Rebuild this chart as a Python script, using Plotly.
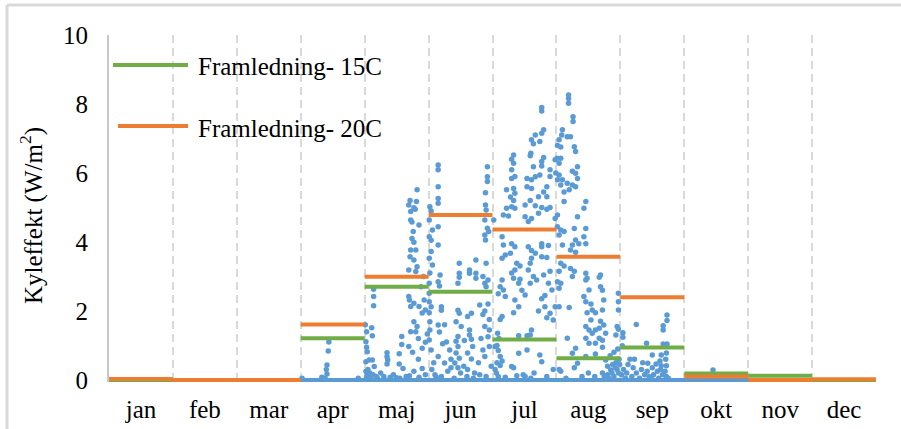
import plotly.graph_objects as go

months = ["jan", "feb", "mar", "apr", "maj", "jun", "jul", "aug", "sep", "okt", "nov", "dec"]

# monthly mean levels (W/m2)
fram15 = [0.0, 0.0, 0.0, 1.21, 2.70, 2.56, 1.17, 0.63, 0.94, 0.19, 0.12, 0.0]
fram20 = [0.03, 0.0, 0.0, 1.61, 2.99, 4.78, 4.36, 3.57, 2.40, 0.10, 0.0, 0.02]

# zero floor of the hourly series (whole year)
floor_x = [0, 12]
floor_y = [0, 0]

# hourly cooling demand points (position within month 0-1, value)
apr_pts = [(0.33, 0.08), (0.40, 0.30), (0.41, 0.43), (0.41, 0.17), (0.43, 0.84), (0.44, 1.10),
           (0.38, 0.05), (0.90, 0.05), (0.02, 0.05)]
maj_pts = [(0.14, 2.63), (0.14, 2.42), (0.14, 2.15), (0.11, 1.51), (0.12, 1.28), (0.03, 1.40),
           (0.02, 1.11), (0.03, 0.95), (0.04, 0.82), (0.12, 0.58), (0.02, 0.53), (0.07, 0.58),
           (0.15, 0.39), (0.05, 0.30), (0.08, 0.20), (0.02, 0.25), (0.10, 0.12), (0.03, 0.08),
           (0.06, 0.05), (0.13, 0.15), (0.18, 0.10), (0.20, 0.05), (0.01, 1.6), (0.04, 0.15),
           (0.35, 0.79), (0.35, 0.67), (0.36, 0.58), (0.35, 0.46), (0.54, 0.76), (0.54, 0.46),
           (0.58, 1.26), (0.58, 1.03), (0.69, 0.97), (0.60, 0.33), (0.90, 0.33), (0.77, 0.25),
           (0.30, 0.10), (0.40, 0.08), (0.45, 0.15), (0.50, 0.06), (0.65, 0.10), (0.25, 0.20),
           (0.70, 0.12), (0.55, 0.05), (0.85, 0.08), (0.95, 0.15),
           (0.82, 5.51), (0.69, 5.07), (0.77, 4.99), (0.72, 4.88), (0.81, 5.17), (0.79, 4.95),
           (0.72, 4.64), (0.74, 4.58), (0.85, 4.49), (0.74, 4.10), (0.77, 3.99), (0.72, 3.77),
           (0.80, 3.77), (0.71, 3.57), (0.77, 3.48), (0.82, 3.28), (0.69, 3.19), (0.80, 3.14),
           (0.69, 2.42), (0.70, 2.32), (0.77, 2.22), (0.72, 2.13), (0.85, 2.13), (0.93, 2.32),
           (0.95, 2.03), (0.90, 1.94), (0.77, 1.69), (0.82, 1.55), (0.72, 1.40), (0.80, 1.40),
           (0.90, 0.92), (0.95, 1.09), (0.98, 1.33), (0.84, 0.60), (0.75, 0.80), (0.88, 2.70),
           (0.92, 3.00), (0.76, 4.30), (0.71, 5.20), (0.84, 1.20)]
jun_pts = [(0.15, 6.23), (0.15, 6.09), (0.15, 5.60), (0.15, 5.26), (0.15, 5.12), (0.15, 4.44),
           (0.15, 3.91), (0.02, 5.02), (0.04, 4.90), (0.01, 4.64), (0.06, 4.35), (0.01, 4.15),
           (0.04, 4.05), (0.04, 3.72), (0.01, 3.53), (0.06, 3.33), (0.02, 3.10), (0.01, 2.80),
           (0.15, 2.85), (0.17, 2.72), (0.18, 3.04), (0.01, 2.51), (0.01, 2.27), (0.04, 2.12),
           (0.01, 1.95), (0.02, 1.69), (0.02, 1.45), (0.01, 1.16), (0.15, 1.59), (0.17, 1.39),
           (0.20, 2.12), (0.20, 2.02), (0.15, 0.68), (0.04, 0.87), (0.22, 1.05), (0.25, 0.49),
           (0.33, 0.87), (0.35, 0.35), (0.30, 0.25),
           (0.48, 3.38), (0.48, 3.09), (0.48, 2.98), (0.46, 2.80), (0.48, 1.93), (0.46, 2.02),
           (0.43, 1.69), (0.51, 1.55), (0.46, 1.26), (0.43, 1.12), (0.46, 0.97), (0.43, 0.78),
           (0.48, 0.63), (0.41, 0.49), (0.46, 0.35), (0.56, 1.14), (0.61, 1.84), (0.64, 1.45),
           (0.64, 1.30), (0.67, 1.18), (0.69, 0.97), (0.61, 0.78), (0.67, 0.61), (0.72, 0.20),
           (0.61, 0.30), (0.64, 3.19), (0.64, 3.09), (0.74, 3.48), (0.74, 3.09), (0.74, 2.95),
           (0.80, 2.17), (0.67, 1.93), (0.85, 3.00), (0.90, 3.38), (0.88, 2.80), (0.90, 2.70),
           (0.93, 2.90), (0.85, 1.90), (0.88, 1.55), (0.93, 2.20), (0.88, 2.00), (0.95, 1.75),
           (0.95, 1.45), (0.93, 1.25), (0.85, 0.87), (0.88, 0.68), (0.95, 0.97), (0.25, 1.60),
           (0.28, 1.10), (0.35, 0.60), (0.55, 0.40), (0.78, 0.50), (0.82, 1.20),
           (0.92, 6.18), (0.92, 5.89), (0.92, 5.75), (0.89, 5.43), (0.89, 5.07), (0.90, 4.93),
           (0.88, 4.64), (0.92, 4.40), (0.88, 4.20), (0.89, 4.06), (0.94, 4.30),
           (0.05, 0.30), (0.10, 0.15), (0.20, 0.10), (0.40, 0.05), (0.50, 0.20), (0.60, 0.10),
           (0.70, 0.05), (0.80, 0.15), (0.90, 0.10), (0.98, 0.40), (0.08, 0.50), (0.12, 0.08)]
jul_pts = [(0.77, 7.90), (0.77, 7.80), (0.80, 7.25), (0.77, 7.15), (0.74, 6.91), (0.67, 7.10),
           (0.61, 6.96), (0.64, 6.85), (0.60, 6.57), (0.59, 6.50), (0.64, 6.18), (0.77, 6.33),
           (0.80, 6.45), (0.77, 6.20), (0.67, 5.89), (0.61, 5.80), (0.54, 5.84), (0.74, 5.94),
           (0.90, 6.09), (0.98, 6.38), (0.99, 6.00), (0.90, 5.90), (0.85, 5.60), (0.85, 5.31),
           (0.80, 5.45), (0.72, 5.31), (0.61, 5.55), (0.54, 5.60), (0.59, 5.20), (0.51, 5.07),
           (0.67, 5.05), (0.72, 4.83), (0.77, 5.00), (0.85, 4.95), (0.90, 5.00), (0.51, 4.73),
           (0.56, 4.59), (0.61, 4.68), (0.98, 4.68),
           (0.33, 6.52), (0.30, 6.40), (0.33, 6.28), (0.30, 6.09), (0.30, 5.84), (0.35, 5.90),
           (0.22, 5.51), (0.33, 5.55), (0.35, 5.41), (0.28, 5.30), (0.33, 5.20), (0.30, 5.02),
           (0.35, 4.98), (0.22, 4.98), (0.17, 4.78), (0.25, 4.75), (0.15, 4.15), (0.17, 3.91),
           (0.30, 3.95), (0.35, 3.86), (0.28, 3.67), (0.20, 3.62), (0.15, 3.53), (0.02, 4.64),
           (0.38, 3.38), (0.43, 3.30), (0.35, 3.19), (0.30, 3.10), (0.33, 2.95), (0.43, 2.92),
           (0.41, 2.80), (0.15, 2.90), (0.12, 2.70), (0.17, 2.61), (0.20, 2.42), (0.09, 2.50),
           (0.35, 2.32), (0.41, 2.12), (0.33, 1.95), (0.15, 1.84), (0.12, 1.75), (0.46, 2.60),
           (0.51, 2.46), (0.56, 3.19), (0.59, 3.38), (0.61, 3.53), (0.67, 3.67), (0.61, 3.75),
           (0.56, 3.86), (0.64, 3.00), (0.59, 2.80), (0.69, 2.90), (0.77, 3.57), (0.77, 3.86),
           (0.77, 3.95), (0.875, 3.90), (0.85, 3.55), (0.80, 3.04), (0.90, 3.15), (0.875, 2.80),
           (0.93, 2.61), (0.82, 2.45), (0.77, 2.35), (0.82, 2.12), (0.72, 2.00), (0.90, 1.93),
           (0.85, 1.80), (0.98, 2.12), (0.95, 1.74), (0.61, 1.45), (0.59, 1.30), (0.54, 1.28),
           (0.41, 1.28),
           (0.04, 0.97), (0.07, 1.00), (0.09, 0.85), (0.12, 0.68), (0.15, 0.55), (0.07, 0.50),
           (0.12, 0.42), (0.09, 0.10), (0.30, 0.39), (0.33, 0.35), (0.41, 0.77), (0.54, 0.87),
           (0.74, 0.72), (0.77, 0.53), (0.85, 0.10), (0.51, 0.10), (0.48, 0.15), (0.04, 0.30),
           (0.06, 0.20), (0.10, 1.20), (0.08, 1.35), (0.20, 0.08), (0.65, 0.20), (0.95, 0.30),
           (0.38, 0.12), (0.60, 0.05)]
aug_pts = [(0.19, 8.26), (0.19, 8.16), (0.19, 8.02), (0.26, 7.63), (0.26, 7.49), (0.094, 7.25),
           (0.083, 7.10), (0.042, 6.96), (0.17, 7.05), (0.22, 7.05), (0.28, 6.76), (0.30, 6.62),
           (0.016, 6.80), (0.068, 6.75), (0.01, 6.43), (0.068, 6.43), (0.042, 6.28), (0.33, 6.18),
           (0.30, 5.99), (0.25, 6.05), (0.33, 5.84), (0.042, 5.94), (0.016, 5.80), (0.094, 5.80),
           (0.068, 5.65), (0.17, 5.70), (0.25, 5.65), (0.20, 5.51), (0.30, 5.60), (0.12, 5.45),
           (0.12, 5.17), (0.46, 5.17), (0.43, 4.98), (0.33, 4.73), (0.016, 4.78), (0.016, 4.44),
           (0.068, 4.35), (0.042, 4.20), (0.12, 4.30), (0.28, 4.39), (0.46, 4.39), (0.43, 4.15),
           (0.46, 3.95), (0.30, 4.06), (0.25, 3.91), (0.094, 3.91), (0.22, 3.77), (0.35, 3.95),
           (0.30, 3.70),
           (0.068, 3.38), (0.042, 3.15), (0.12, 3.30), (0.22, 3.23), (0.28, 3.15), (0.25, 3.00),
           (0.46, 3.09), (0.48, 2.95), (0.46, 2.90), (0.69, 3.04), (0.67, 2.98), (0.016, 2.85),
           (0.068, 2.80), (0.042, 2.66), (0.69, 2.70), (0.72, 2.60), (0.51, 2.61), (0.43, 2.42),
           (0.46, 2.27), (0.54, 2.20), (0.56, 2.03), (0.61, 1.95), (0.72, 2.03), (0.74, 2.32),
           (0.48, 1.95), (0.54, 1.74), (0.46, 1.55), (0.51, 1.45), (0.56, 1.35), (0.61, 1.45),
           (0.67, 1.50), (0.69, 1.70), (0.74, 1.59), (0.46, 1.21), (0.51, 1.06), (0.61, 1.06),
           (0.67, 1.21), (0.72, 0.95), (0.77, 1.35), (0.72, 1.15), (0.042, 2.12), (0.20, 2.10),
           (0.17, 1.21), (0.30, 0.92), (0.25, 0.77), (0.33, 0.48), (0.28, 0.35), (0.46, 0.68),
           (0.61, 0.75), (0.77, 0.58), (0.80, 0.40), (0.85, 0.29), (0.72, 0.20), (0.93, 0.50),
           (0.95, 0.30), (0.95, 1.55), (0.93, 1.30), (0.042, 0.30), (0.068, 0.25),
           (0.97, 2.51), (0.97, 2.27), (0.97, 2.03), (0.97, 1.47),
           (0.75, 0.10), (0.80, 0.15), (0.82, 0.05), (0.87, 0.20), (0.90, 0.10), (0.92, 0.35),
           (0.97, 0.20), (0.98, 0.60), (0.99, 0.45), (0.88, 0.45), (0.84, 0.70), (0.90, 0.80),
           (0.96, 0.90), (0.60, 0.10), (0.50, 0.20), (0.40, 0.10), (0.15, 0.05)]
sep_pts = [(0.04, 1.37), (0.04, 1.24), (0.25, 1.61), (0.73, 1.88), (0.73, 1.72), (0.67, 1.57),
           (0.67, 1.45), (0.41, 1.06), (0.67, 1.04), (0.73, 1.04), (0.03, 0.99), (0.50, 0.72),
           (0.64, 0.72), (0.72, 0.78), (0.71, 0.60), (0.15, 0.60), (0.22, 0.60), (0.43, 0.48),
           (0.56, 0.46), (0.64, 0.41), (0.72, 0.41),
           (0.05, 0.30), (0.10, 0.20), (0.12, 0.45), (0.18, 0.10), (0.20, 0.35), (0.25, 0.20),
           (0.30, 0.05), (0.33, 0.30), (0.38, 0.15), (0.42, 0.25), (0.45, 0.10), (0.50, 0.35),
           (0.52, 0.15), (0.58, 0.25), (0.60, 0.05), (0.63, 0.30), (0.66, 0.15), (0.70, 0.25),
           (0.72, 0.10), (0.75, 0.05), (0.02, 0.15), (0.08, 0.05), (0.35, 0.50), (0.62, 0.55),
           (0.48, 0.05)]
okt_pts = [(0.45, 0.29), (0.10, 0.05)]

month_points = {3: apr_pts, 4: maj_pts, 5: jun_pts, 6: jul_pts, 7: aug_pts, 8: sep_pts, 9: okt_pts}

sx, sy = [], []
for m, pts in month_points.items():
    for f, v in pts:
        sx.append(m + f)
        sy.append(v)


def segments(vals):
    xs, ys = [], []
    for i, v in enumerate(vals):
        xs += [i, i + 1, None]
        ys += [v, v, None]
    return xs, ys


FONT = "Liberation Serif"
FS = 25
BLUE = "#5B9BD5"
GREEN = "#70AD47"
ORANGE = "#ED7D31"

fig = go.Figure()
fig.add_trace(go.Scatter(x=floor_x, y=floor_y, mode="lines",
                         line=dict(color=BLUE, width=4), showlegend=False, hoverinfo="skip"))
fig.add_trace(go.Scatter(x=sx, y=sy, mode="markers", name="Kyleffekt",
                         marker=dict(color=BLUE, size=5.5), showlegend=False, cliponaxis=False))
gx, gy = segments(fram15)
fig.add_trace(go.Scatter(x=gx, y=gy, mode="lines", name="Framledning- 15C",
                         line=dict(color=GREEN, width=4), showlegend=False))
ox, oy = segments(fram20)
fig.add_trace(go.Scatter(x=ox, y=oy, mode="lines", name="Framledning- 20C",
                         line=dict(color=ORANGE, width=4), showlegend=False))

W, H = 901, 429
L, R, T, B = 109, 25, 35, 47
pw, ph = W - L - R, H - T - B


def px2x(px):
    return (px - L) / pw


def py2y(py):
    return (H - B - py) / ph


shapes = [
    # outer chart frame
    dict(type="line", xref="paper", yref="paper", x0=px2x(7), x1=px2x(905), y0=py2y(5), y1=py2y(5),
         line=dict(color="#D9D9D9", width=3)),
    dict(type="line", xref="paper", yref="paper", x0=px2x(7), x1=px2x(7), y0=py2y(5), y1=py2y(435),
         line=dict(color="#D9D9D9", width=3)),
    # legend samples
    dict(type="line", xref="paper", yref="paper", x0=px2x(113), x1=px2x(188), y0=py2y(65), y1=py2y(65),
         line=dict(color=GREEN, width=4)),
    dict(type="line", xref="paper", yref="paper", x0=px2x(118), x1=px2x(188), y0=py2y(126), y1=py2y(126),
         line=dict(color=ORANGE, width=4)),
]

annotations = [
    dict(text="Framledning- 15C", xref="paper", yref="paper", x=px2x(196), y=py2y(66),
         xanchor="left", yanchor="middle", showarrow=False, font=dict(family=FONT, size=FS, color="black")),
    dict(text="Framledning- 20C", xref="paper", yref="paper", x=px2x(196), y=py2y(128),
         xanchor="left", yanchor="middle", showarrow=False, font=dict(family=FONT, size=FS, color="black")),
    dict(text="Kyleffekt (W/m<sup>2</sup>)", xref="paper", yref="paper", x=px2x(31), y=py2y(216),
         xanchor="center", yanchor="middle", textangle=-90, showarrow=False,
         font=dict(family=FONT, size=FS, color="black")),
]

fig.update_layout(
    width=W, height=H, autosize=False,
    margin=dict(l=L, r=R, t=T, b=B, pad=0, autoexpand=False),
    paper_bgcolor="white", plot_bgcolor="white",
    font=dict(family=FONT, size=FS, color="black"),
    shapes=shapes, annotations=annotations,
    showlegend=False,
    xaxis=dict(range=[0, 12], tickvals=[i + 0.5 for i in range(12)], ticktext=months,
               automargin=False,
               showgrid=False, zeroline=False, showline=False, ticks="", ticklabelstandoff=10,
               tickfont=dict(family=FONT, size=FS, color="black"),
               minor=dict(tickvals=list(range(1, 13)), showgrid=True, gridcolor="#D9D9D9",
                          gridwidth=2, griddash="8px,5px", ticks="")),
    yaxis=dict(range=[-0.06, 10], tickvals=[0, 2, 4, 6, 8, 10], automargin=False,
               showgrid=False, zeroline=False, showline=True, linecolor="#C8C8C8", linewidth=2,
               ticks="", ticklabelstandoff=14,
               tickfont=dict(family=FONT, size=FS, color="black")),
)

fig.write_html("out.html", config={"displayModeBar": False},
               post_script="document.body.style.margin='0';")
